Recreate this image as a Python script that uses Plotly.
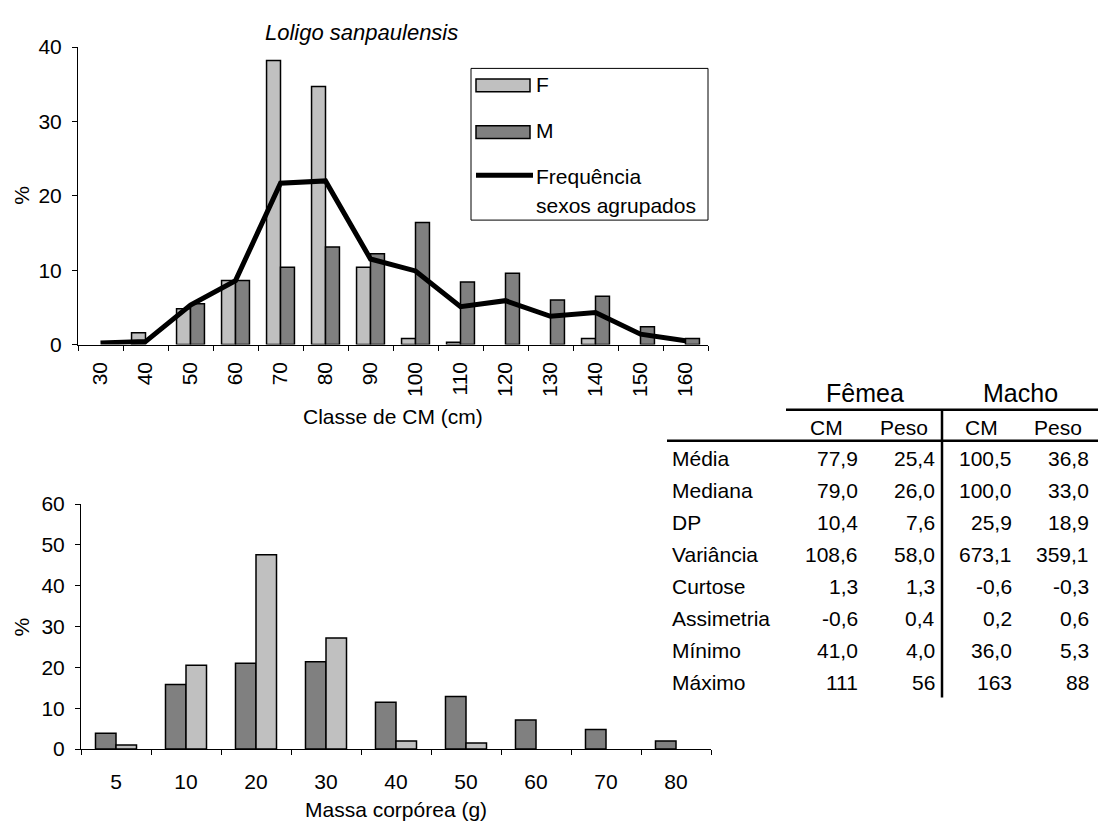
import plotly.graph_objects as go

W, H = 1098, 834

# --- Length-class distribution (top panel) ---
cm_classes = ["30", "40", "50", "60", "70", "80", "90", "100", "110", "120", "130", "140", "150", "160"]
cm_female = [0, 1.6, 4.8, 8.6, 38.2, 34.7, 10.4, 0.8, 0.3, 0, 0, 0.8, 0, 0]
cm_male = [0, 0, 5.5, 8.6, 10.4, 13.1, 12.2, 16.4, 8.4, 9.6, 6.0, 6.5, 2.4, 0.8]
cm_pooled = [0.2, 0.4, 5.3, 8.6, 21.7, 22.0, 11.5, 9.9, 5.1, 5.9, 3.8, 4.3, 1.4, 0.5]

# --- Body-mass distribution (bottom panel) ---
mass_classes = ["5", "10", "20", "30", "40", "50", "60", "70", "80"]
mass_male = [3.9, 15.8, 21.0, 21.4, 11.5, 12.9, 7.1, 4.8, 2.0]
mass_female = [1.0, 20.5, 47.6, 27.2, 2.0, 1.5, 0, 0, 0]

# --- Summary statistics table ---
stat_names = ["Média", "Mediana", "DP", "Variância", "Curtose", "Assimetria", "Mínimo", "Máximo"]
femea_cm = ["77,9", "79,0", "10,4", "108,6", "1,3", "-0,6", "41,0", "111"]
femea_peso = ["25,4", "26,0", "7,6", "58,0", "1,3", "0,4", "4,0", "56"]
macho_cm = ["100,5", "100,0", "25,9", "673,1", "-0,6", "0,2", "36,0", "163"]
macho_peso = ["36,8", "33,0", "18,9", "359,1", "-0,3", "0,6", "5,3", "88"]

LIGHT = "#c0c0c0"
DARK = "#808080"
FONT = "Liberation Sans, Arial, sans-serif"
FS = 21


def px(x):
    return x / W


def py(y):
    return 1 - y / H


def nz(values):
    # empty classes get no bar at all (no outline on the baseline)
    return [v if v > 0 else None for v in values]


fig = go.Figure()

bar_line = dict(color="black", width=1.5)

# top panel bars
fig.add_bar(x=cm_classes, y=nz(cm_female), width=0.31, offset=-0.31,
            marker=dict(color=LIGHT, line=bar_line), xaxis="x", yaxis="y", showlegend=False)
fig.add_bar(x=cm_classes, y=nz(cm_male), width=0.31, offset=0.0,
            marker=dict(color=DARK, line=bar_line), xaxis="x", yaxis="y", showlegend=False)
fig.add_scatter(x=cm_classes, y=cm_pooled, mode="lines",
                line=dict(color="black", width=5), xaxis="x", yaxis="y", showlegend=False)

# bottom panel bars
fig.add_bar(x=mass_classes, y=nz(mass_male), width=0.293, offset=-0.293,
            marker=dict(color=DARK, line=bar_line), xaxis="x2", yaxis="y2", showlegend=False)
fig.add_bar(x=mass_classes, y=nz(mass_female), width=0.293, offset=0.0,
            marker=dict(color=LIGHT, line=bar_line), xaxis="x2", yaxis="y2", showlegend=False)

axis_common = dict(showline=True, linecolor="black", linewidth=1, ticks="outside",
                   ticklen=5, tickcolor="black", tickwidth=1, showgrid=False, zeroline=False,
                   tickfont=dict(family=FONT, size=FS, color="black"))

fig.update_layout(
    width=W, height=H,
    margin=dict(l=0, r=0, t=0, b=0),
    paper_bgcolor="white", plot_bgcolor="white",
    font=dict(family=FONT, color="black"),
    xaxis=dict(domain=[px(78), px(708)], anchor="y", type="category",
               range=[-0.5, 13.5], tickson="boundaries", tickangle=-90,
               ticklabelstandoff=8, **axis_common),
    yaxis=dict(domain=[py(342), py(36)], anchor="x", range=[0, 40], dtick=10,
               ticklabelstandoff=6, **axis_common),
    xaxis2=dict(domain=[px(81), px(711)], anchor="y2", type="category",
                range=[-0.5, 8.5], tickson="boundaries", ticklabelstandoff=14,
                **axis_common),
    yaxis2=dict(domain=[py(758), py(506)], anchor="x2", range=[0, 60], dtick=10,
                ticklabelstandoff=6, **axis_common),
)

annotations = []
shapes = []


def text(x, y, s, size=FS, xanchor="center", angle=0, italic=False):
    annotations.append(dict(
        x=px(x), y=py(y), xref="paper", yref="paper", text=s, showarrow=False,
        xanchor=xanchor, yanchor="middle", textangle=angle,
        font=dict(family=FONT, size=size, color="black",
                  style="italic" if italic else "normal")))


# titles and axis labels
text(361, 21, "Loligo sanpaulensis", size=22, italic=True)
text(22, 189, "%", angle=-90)
text(393, 416, "Classe de CM (cm)")
text(22, 633, "%", angle=-90)
text(396, 820, "Massa corpórea (g)")

# legend for the length panel
shapes.append(dict(type="rect", xref="paper", yref="paper", x0=px(471), x1=px(708),
                   y0=py(214), y1=py(58), line=dict(color="black", width=1),
                   fillcolor="white", layer="above"))
shapes.append(dict(type="rect", xref="paper", yref="paper", x0=px(476), x1=px(530),
                   y0=py(82), y1=py(69), line=dict(color="black", width=1.5),
                   fillcolor=LIGHT, layer="above"))
shapes.append(dict(type="rect", xref="paper", yref="paper", x0=px(476), x1=px(530),
                   y0=py(130), y1=py(117), line=dict(color="black", width=1.5),
                   fillcolor=DARK, layer="above"))
shapes.append(dict(type="line", xref="paper", yref="paper", x0=px(476), x1=px(533),
                   y0=py(168), y1=py(168), line=dict(color="black", width=5),
                   layer="above"))
text(534, 75, "F", xanchor="left")
text(534, 122, "M", xanchor="left")
text(534, 169, "Frequência", xanchor="left")
text(534, 199, "sexos agrupados", xanchor="left")

# statistics table
text(865, 392, "Fêmea", size=25)
text(1020, 392, "Macho", size=25)
for cx, lab in zip([826, 904, 981, 1058], ["CM", "Peso", "CM", "Peso"]):
    text(cx, 427, lab)

row_y = [459, 492, 525, 558, 591, 624, 657, 690]
for i, name in enumerate(stat_names):
    y = row_y[i]
    text(670, y, name, xanchor="left")
    for rx, col in zip([860, 937, 1014, 1091], [femea_cm, femea_peso, macho_cm, macho_peso]):
        text(rx, y, col[i], xanchor="right")

for x0, x1, y0, y1 in [(786, 1098, 409, 409), (667, 1098, 441, 441), (942, 942, 409, 705)]:
    shapes.append(dict(type="line", xref="paper", yref="paper", x0=px(x0), x1=px(x1),
                       y0=py(y0), y1=py(y1), line=dict(color="black", width=2.5)))

fig.update_layout(annotations=annotations, shapes=shapes)

fig.write_html("out.html")
